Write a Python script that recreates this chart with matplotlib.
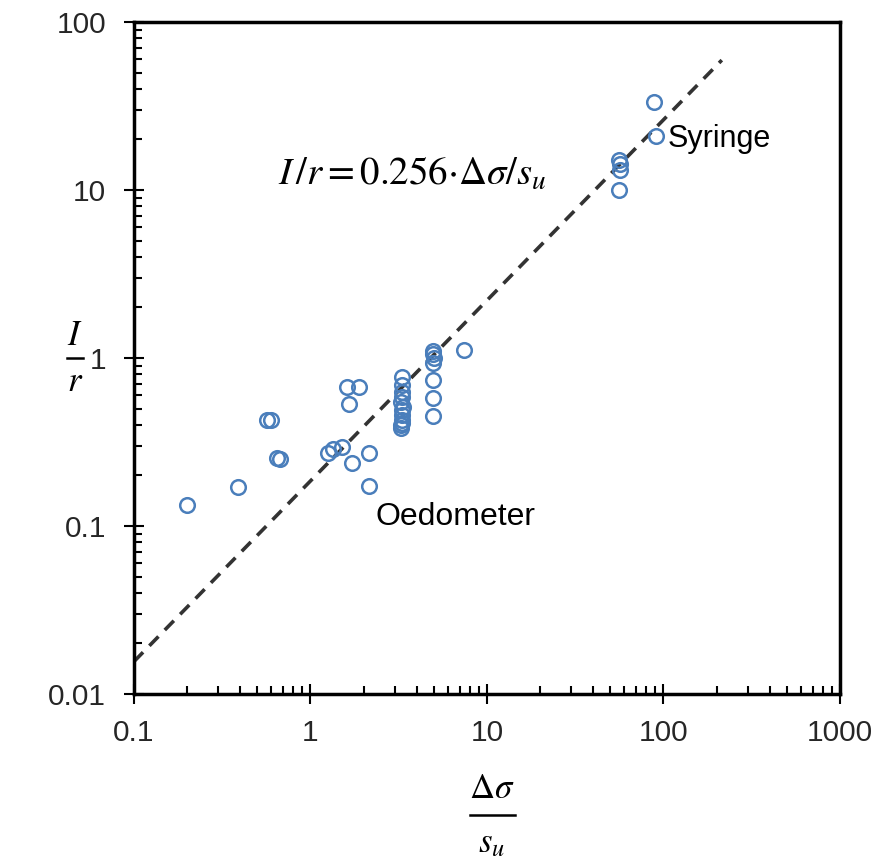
import numpy as np
import matplotlib.pyplot as plt
from matplotlib.lines import Line2D
from matplotlib.ticker import LogLocator, NullFormatter, FixedLocator, FixedFormatter

# oedometer tests
oedo_x = [0.20, 0.39, 0.57, 0.60, 0.65, 0.67, 1.26, 1.35, 1.50, 1.71, 2.15, 2.15,
          1.62, 1.89, 1.65,
          3.30, 3.28, 3.32, 3.30, 3.26, 3.33, 3.30, 3.28, 3.32, 3.27, 3.24, 3.31,
          4.95, 4.92, 5.00, 4.95, 4.92, 4.95, 4.92, 7.45]
oedo_y = [0.133, 0.17, 0.43, 0.43, 0.255, 0.25, 0.273, 0.287, 0.294, 0.236, 0.271, 0.174,
          0.67, 0.672, 0.532,
          0.774, 0.69, 0.63, 0.588, 0.549, 0.513, 0.49, 0.458, 0.428, 0.399, 0.382, 0.41,
          1.10, 1.06, 1.00, 0.93, 0.74, 0.58, 0.454, 1.12]

# syringe tests
syringe_x = [56, 57, 57, 56, 88, 91]
syringe_y = [15.0, 14.3, 13.1, 10.0, 33.5, 21.0]

# fitted trend line as drawn
line_x = [0.1, 214]
line_y = [0.0156, 59.3]

xticks = [0.1, 1, 10, 100, 1000]
xtick_labels = ['0.1', '1', '10', '100', '1000']
yticks = [0.01, 0.1, 1, 10, 100]
ytick_labels = ['0.01', '0.1', '1', '10', '100']

plt.rcParams['font.family'] = ['Liberation Sans', 'DejaVu Sans']
plt.rcParams['mathtext.fontset'] = 'stix'

fig = plt.figure(figsize=(8.75, 8.59), dpi=100)
ax = fig.add_axes([0.1531, 0.1921, 0.8069, 0.7823])

blue = '#4a7ebb'
ax.plot(oedo_x, oedo_y, 'o', mfc='none', mec=blue, ms=10.5, mew=1.8, zorder=3)
ax.plot(syringe_x, syringe_y, 'o', mfc='none', mec=blue, ms=10.5, mew=1.8, zorder=3)
ax.plot(line_x, line_y, color='#333333', lw=2.6, dashes=(3.6, 2.5), zorder=2)

ax.set_xscale('log')
ax.set_yscale('log')
ax.set_xlim(0.1, 1000)
ax.set_ylim(0.01, 100)

ax.xaxis.set_major_locator(FixedLocator(xticks))
ax.xaxis.set_major_formatter(FixedFormatter(xtick_labels))
ax.yaxis.set_major_locator(FixedLocator(yticks))
ax.yaxis.set_major_formatter(FixedFormatter(ytick_labels))
ax.xaxis.set_minor_locator(LogLocator(base=10, subs=np.arange(2, 10)))
ax.yaxis.set_minor_locator(LogLocator(base=10, subs=np.arange(2, 10)))
ax.xaxis.set_minor_formatter(NullFormatter())
ax.yaxis.set_minor_formatter(NullFormatter())

ax.tick_params(which='major', direction='inout', length=14, width=1.5,
               labelsize=21.5, labelcolor='#262626')
ax.tick_params(axis='y', which='major', pad=13)
ax.tick_params(axis='x', which='major', pad=11)
ax.tick_params(which='minor', direction='in', length=6, width=1.5)
ax.tick_params(top=False, right=False)
for s in ax.spines.values():
    s.set_linewidth(2.5)
    s.set_color('black')

ax.text(0.655, 12.4, r'$I\,/r = 0.256{\cdot}\Delta\sigma/s_u$', fontsize=28,
        ha='left', va='center')
ax.text(105, 20.1, 'Syringe', fontsize=22, ha='left', va='center')
ax.text(2.35, 0.113, 'Oedometer', fontsize=23, ha='left', va='center')

# y axis title as a stacked fraction
fig.text(0.0857, 0.610, r'$I$', fontsize=25, ha='center', va='center')
fig.add_artist(Line2D([0.0766, 0.0949], [0.5832, 0.5832], color='black', lw=1.8))
fig.text(0.0857, 0.556, r'$r$', fontsize=25, ha='center', va='center')

# x axis title as a stacked fraction
fig.text(0.5623, 0.071, r'$\Delta\sigma$', fontsize=25, ha='center', va='baseline')
fig.add_artist(Line2D([0.537, 0.5886], [0.0512, 0.0512], color='black', lw=1.8))
fig.text(0.5623, 0.0081, r'$s_u$', fontsize=25, ha='center', va='baseline')

fig.savefig('out.png', dpi=100)
